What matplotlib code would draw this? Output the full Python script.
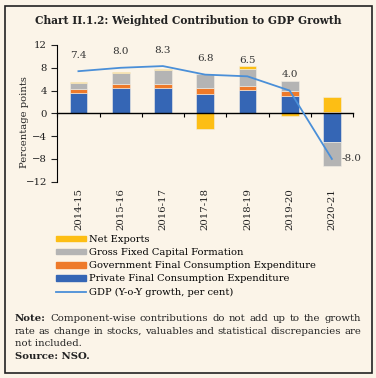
import matplotlib.pyplot as plt
import numpy as np
from matplotlib.patches import Patch, Rectangle
from matplotlib.lines import Line2D

years = ["2014-15", "2015-16", "2016-17", "2017-18", "2018-19", "2019-20", "2020-21"]
private = [3.6, 4.45, 4.5, 3.4, 4.1, 3.1, -5.1]
govt = [0.65, 0.7, 0.6, 1.05, 0.7, 0.8, 0.3]
gfcf = [1.0, 2.0, 2.55, 2.5, 3.0, 1.85, -4.1]
net_exports = [0.25, 0.15, 0.15, -2.8, 0.5, -0.5, 2.5]
gdp = [7.4, 8.0, 8.3, 6.8, 6.5, 4.0, -8.0]

labels = ["Private Final Consumption Expenditure", "Government Final Consumption Expenditure",
          "Gross Fixed Capital Formation", "Net Exports"]
colors = ["#3566B5", "#EE7A2A", "#B4B4B4", "#FDBE14"]
line_color = "#4A8FD8"
bg = "#FBF4E8"

plt.rcParams['font.family'] = ['DejaVu Serif']
W, H = 376, 378
fig = plt.figure(figsize=(W / 100, H / 100), dpi=100, facecolor=bg)

# border
fig.patches.append(Rectangle((4.5 / W, 5.5 / H), 367 / W, 367 / H, transform=fig.transFigure,
                             fill=False, edgecolor="#222222", linewidth=1.2))

fig.text(188 / W, 1 - 21 / H, "Chart II.1.2: Weighted Contribution to GDP Growth",
         ha="center", va="center", fontsize=7.7, fontweight="bold", color="#222222")

ax = fig.add_axes([57.3 / W, 1 - 181.7 / H, (353 - 57.3) / W, (181.7 - 45) / H])
ax.set_facecolor(bg)

x = np.arange(len(years))
pos = np.zeros(len(years))
neg = np.zeros(len(years))
for vals, c in zip([private, govt, gfcf, net_exports], colors):
    v = np.array(vals)
    bottom = np.where(v >= 0, pos, neg)
    ax.bar(x, v, 0.42, bottom=bottom, color=c, edgecolor="#f2eee6", linewidth=0.4, zorder=2)
    pos = pos + np.where(v >= 0, v, 0)
    neg = neg + np.where(v < 0, v, 0)

ax.plot(x, gdp, color=line_color, linewidth=1.3, zorder=3)
for i, v in enumerate(gdp):
    if v < 0:
        ax.annotate(f"{v:.1f}", (i, v), xytext=(7, 0), textcoords="offset points",
                    ha="left", va="center", fontsize=7.5, color="#333333")
    else:
        ax.annotate(f"{v:.1f}", (i, v), xytext=(0, 11.5), textcoords="offset points",
                    ha="center", va="center", fontsize=7.5, color="#333333")

ax.set_xlim(-0.5, 6.5)
ax.set_ylim(-12, 12)
ax.set_yticks([-12, -8, -4, 0, 4, 8, 12])
ax.tick_params(axis="y", length=4, width=0.8, pad=3.5, labelsize=7.3, colors="#222222")
ax.spines["top"].set_visible(False)
ax.spines["right"].set_visible(False)
ax.spines["bottom"].set_position(("data", 0))
ax.spines["bottom"].set_linewidth(1.0)
ax.spines["left"].set_linewidth(0.8)
ax.set_xticks(np.arange(-0.5, 7, 1))
ax.tick_params(axis="x", length=3, width=0.8, labelbottom=False)
for i, yr in enumerate(years):
    fig.text((57.3 + (i + 0.5) * (353 - 57.3) / 7) / W, 1 - 188.5 / H, yr, rotation=90,
             ha="center", va="top", fontsize=7.3, color="#222222")

fig.text(25 / W, 1 - 122 / H, "Percentage points", rotation=90, ha="center", va="center",
         fontsize=7.2, color="#222222")

handles = [Patch(color=colors[3]), Patch(color=colors[2]), Patch(color=colors[1]),
           Patch(color=colors[0]), Line2D([], [], color=line_color, linewidth=1.3)]
leg_labels = [labels[3], labels[2], labels[1], labels[0], "GDP (Y-o-Y growth, per cent)"]
fig.legend(handles, leg_labels, loc="upper left", bbox_to_anchor=(56 / W, 1 - 235 / H),
           frameon=False, fontsize=7.1, handlelength=3.0, handleheight=0.5, handletextpad=0.3,
           labelspacing=0.42, borderpad=0, borderaxespad=0)

# justified note text
renderer = fig.canvas.get_renderer()
note_lines = [
    [("Note:", "bold"), "Component-wise", "contributions", "do", "not", "add", "up", "to", "the", "growth"],
    ["rate", "as", "change", "in", "stocks,", "valuables", "and", "statistical", "discrepancies", "are"],
]
fs = 7.3
left, right = 15, 361
ys = [318.5, 331]
for words, yy in zip(note_lines, ys):
    objs = []
    for w in words:
        if isinstance(w, tuple):
            t = fig.text(left / W, 1 - yy / H, w[0], fontsize=fs, fontweight=w[1], va="center", color="#222222")
        else:
            t = fig.text(left / W, 1 - yy / H, w, fontsize=fs, va="center", color="#222222")
        objs.append(t)
    widths = [o.get_window_extent(renderer).width for o in objs]
    gap = (right - left - sum(widths)) / (len(objs) - 1)
    xx = left
    for o, wd in zip(objs, widths):
        o.set_x(xx / W)
        xx += wd + gap
fig.text(left / W, 1 - 343.5 / H, "not included.", fontsize=fs, va="center", color="#222222")
fig.text(left / W, 1 - 356.5 / H, "Source: NSO.", fontsize=fs, fontweight="bold", va="center", color="#222222")

fig.savefig("out.png", dpi=100, facecolor=bg)
